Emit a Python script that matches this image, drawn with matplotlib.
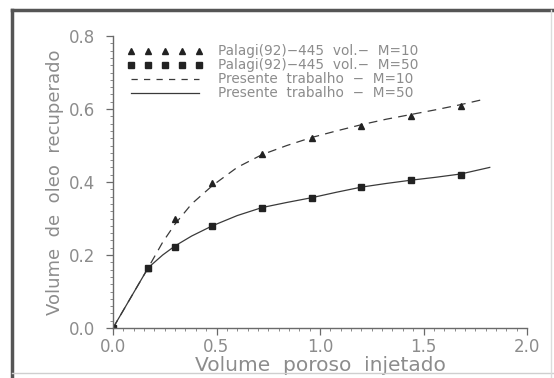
import matplotlib.pyplot as plt
from matplotlib.lines import Line2D
from matplotlib.ticker import MultipleLocator

# Measured points (Palagi 92, 445 vol.)
x_pts = [0.0, 0.17, 0.30, 0.48, 0.72, 0.96, 1.20, 1.44, 1.68]
y_m10 = [0.0, 0.165, 0.30, 0.397, 0.477, 0.52, 0.553, 0.58, 0.608]
y_m50 = [0.0, 0.165, 0.222, 0.28, 0.33, 0.356, 0.386, 0.405, 0.42]

# Model curves (present work)
x_m10 = [0.0, 0.17, 0.24, 0.30, 0.38, 0.48, 0.60, 0.72, 0.84, 0.96, 1.08, 1.20, 1.32, 1.44, 1.56, 1.68, 1.78]
c_m10 = [0.0, 0.165, 0.235, 0.285, 0.34, 0.39, 0.44, 0.475, 0.50, 0.522, 0.54, 0.557, 0.572, 0.585, 0.598, 0.612, 0.625]
x_m50 = [0.0, 0.17, 0.24, 0.30, 0.38, 0.48, 0.60, 0.72, 0.84, 0.96, 1.08, 1.20, 1.32, 1.44, 1.56, 1.68, 1.82]
c_m50 = [0.0, 0.165, 0.20, 0.225, 0.252, 0.28, 0.308, 0.33, 0.344, 0.357, 0.372, 0.386, 0.396, 0.405, 0.413, 0.422, 0.44]

labels = ['Palagi(92)\u2212445  vol.\u2212  M=10',
          'Palagi(92)\u2212445  vol.\u2212  M=50',
          'Presente  trabalho  \u2212  M=10',
          'Presente  trabalho  \u2212  M=50']

grey = '#8c8c8c'
dark = '#3a3a3a'

plt.rcParams['font.family'] = ['DejaVu Sans']

fig = plt.figure(figsize=(5.54, 3.78), dpi=100)
ax = fig.add_axes([113 / 554, 1 - 328 / 378, (527 - 113) / 554, (328 - 36) / 378])

ax.plot(x_m10, c_m10, color=dark, lw=0.9, ls=(0, (7, 5)))
ax.plot(x_m50, c_m50, color=dark, lw=0.9)
ax.plot(x_pts, y_m10, ls='none', marker='^', ms=5, color='#222222')
ax.plot(x_pts, y_m50, ls='none', marker='s', ms=4.5, color='#222222')

ax.set_xlim(0, 2.0)
ax.set_ylim(0, 0.8)
ax.xaxis.set_major_locator(MultipleLocator(0.5))
ax.xaxis.set_minor_locator(MultipleLocator(0.05))
ax.yaxis.set_major_locator(MultipleLocator(0.2))
ax.yaxis.set_minor_locator(MultipleLocator(0.02))
ax.xaxis.set_major_formatter(plt.FormatStrFormatter('%.1f'))
ax.yaxis.set_major_formatter(plt.FormatStrFormatter('%.1f'))

for s in ['top', 'right']:
    ax.spines[s].set_visible(False)
for s in ['left', 'bottom']:
    ax.spines[s].set_color('#6a6a6a')
    ax.spines[s].set_linewidth(1.0)

ax.tick_params(which='major', direction='out', length=5, width=0.9, color='#6a6a6a',
               labelcolor=grey, labelsize=12)
ax.tick_params(axis='y', which='major', pad=8)
ax.tick_params(axis='x', which='major', pad=2)
ax.tick_params(which='minor', direction='out', length=2.5, width=0.7, color='#8a8a8a')

ax.set_xlabel('Volume  poroso  injetado', fontsize=14.5, color=grey, labelpad=0)
ax.set_ylabel('Volume  de  oleo  recuperado', fontsize=13, color=grey, labelpad=3)

handles = [
    Line2D([], [], ls='none', marker='^', ms=5, color='#222222'),
    Line2D([], [], ls='none', marker='s', ms=4.5, color='#222222'),
    Line2D([], [], ls=(0, (5, 5)), lw=0.9, color=dark),
    Line2D([], [], ls='-', lw=0.9, color=dark),
]
leg = ax.legend(handles, labels, loc='upper left', bbox_to_anchor=(0.02, 0.99),
                frameon=False, numpoints=5, handlelength=5.6, handletextpad=1.1,
                labelspacing=0.0, fontsize=9.8, labelcolor=grey, borderaxespad=0)

# outer frame: heavy on top and left, faint on right and bottom
fig.add_artist(Line2D([12 / 554, 12 / 554], [0, 1 - 10 / 378], transform=fig.transFigure,
                      color='#555555', lw=2.5))
fig.add_artist(Line2D([12 / 554, 1], [1 - 10 / 378, 1 - 10 / 378], transform=fig.transFigure,
                      color='#555555', lw=2.5))
fig.add_artist(Line2D([12 / 554, 1], [1 - 373 / 378, 1 - 373 / 378], transform=fig.transFigure,
                      color='#cfcfcf', lw=1))
fig.add_artist(Line2D([551 / 554, 551 / 554], [0, 1 - 10 / 378], transform=fig.transFigure,
                      color='#dcdcdc', lw=1))

fig.savefig('out.png', dpi=100)
